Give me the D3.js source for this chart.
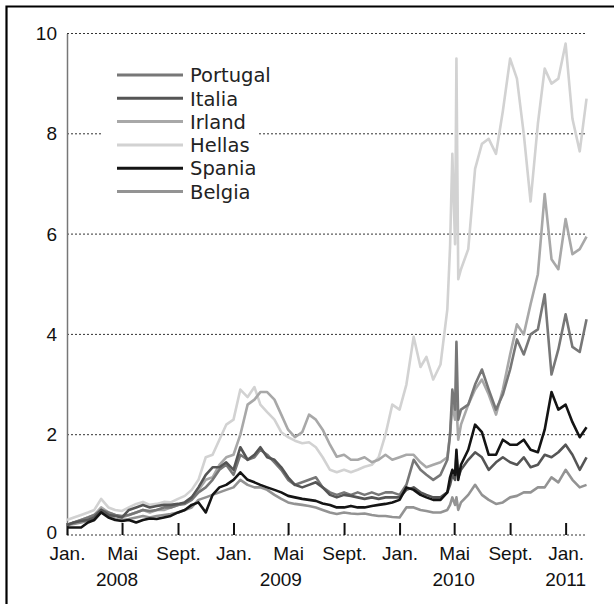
<!DOCTYPE html>
<html>
<head>
<meta charset="utf-8">
<script src="https://cdn.jsdelivr.net/npm/d3@7"></script>
<style>
  body { margin: 0; background: #fff; }
  .axis text, .year { font-family: "Liberation Sans", Arial, sans-serif; font-size: 19px; fill: #111; }
  .legend text { font-family: "DejaVu Sans", "Open Sans", sans-serif; font-size: 19.5px; fill: #222; }
</style>
</head>
<body>
<svg id="chart"></svg>
<script>
/* data: semi-monthly readings, extra points around the May 2010 spike */
const dates = [
  "2008-01-01","2008-01-16","2008-02-01","2008-02-16","2008-03-01","2008-03-16","2008-04-01","2008-04-16","2008-05-01","2008-05-16","2008-06-01","2008-06-16",
  "2008-07-01","2008-07-16","2008-08-01","2008-08-16","2008-09-01","2008-09-16","2008-10-01","2008-10-16","2008-11-01","2008-11-16","2008-12-01","2008-12-16",
  "2009-01-01","2009-01-16","2009-02-01","2009-02-16","2009-03-01","2009-03-16","2009-04-01","2009-04-16","2009-05-01","2009-05-16","2009-06-01","2009-06-16",
  "2009-07-01","2009-07-16","2009-08-01","2009-08-16","2009-09-01","2009-09-16","2009-10-01","2009-10-16","2009-11-01","2009-11-16","2009-12-01","2009-12-16",
  "2010-01-01","2010-01-16","2010-02-01","2010-02-16","2010-03-01","2010-03-16","2010-04-01","2010-04-16","2010-04-22","2010-04-27","2010-05-03","2010-05-06",
  "2010-05-10","2010-05-16","2010-06-01","2010-06-16","2010-07-01","2010-07-16","2010-08-01","2010-08-16","2010-09-01","2010-09-16","2010-10-01","2010-10-16",
  "2010-11-01","2010-11-16","2010-12-01","2010-12-16",
  "2011-01-01","2011-01-16","2011-02-01","2011-02-16"
];
const portugal = [
  0.2,0.25,0.3,0.35,0.4,0.5,0.45,0.4,0.38,0.4,0.45,0.5,0.48,0.5,0.55,0.55,0.6,0.62,0.7,0.85,0.95,1.1,1.3,1.4,
  1.2,1.6,1.5,1.55,1.7,1.6,1.45,1.3,1.1,1.0,1.05,1.1,1.15,0.95,0.85,0.8,0.85,0.8,0.85,0.8,0.85,0.8,0.85,0.85,
  0.8,1.0,1.5,1.3,1.2,1.1,1.2,1.5,2.0,2.9,2.5,3.85,2.3,2.5,2.6,3.0,3.3,2.9,2.5,2.8,3.3,3.9,3.6,4.0,4.1,4.8,3.2,3.7,
  4.4,3.75,3.65,4.3
];
const italia = [
  0.2,0.25,0.28,0.3,0.35,0.5,0.4,0.38,0.35,0.5,0.55,0.6,0.55,0.58,0.6,0.6,0.62,0.65,0.75,0.95,1.2,1.35,1.35,1.45,
  1.3,1.75,1.5,1.6,1.75,1.55,1.5,1.35,1.15,1.0,0.95,1.0,1.05,0.95,0.8,0.75,0.8,0.78,0.75,0.72,0.75,0.72,0.75,0.75,
  0.75,0.9,0.95,0.85,0.8,0.75,0.75,0.85,1.0,1.2,1.1,1.6,1.15,1.3,1.5,1.65,1.55,1.3,1.45,1.55,1.45,1.4,1.55,1.35,1.4,1.6,1.55,1.65,
  1.8,1.6,1.3,1.55
];
const irland = [
  0.2,0.25,0.3,0.35,0.4,0.55,0.45,0.4,0.35,0.4,0.45,0.5,0.45,0.5,0.5,0.55,0.6,0.65,0.75,0.9,1.1,1.15,1.4,1.55,
  1.6,2.0,2.6,2.7,2.85,2.85,2.7,2.4,2.1,1.95,2.05,2.4,2.3,2.1,1.8,1.56,1.6,1.5,1.5,1.55,1.45,1.5,1.6,1.5,
  1.55,1.6,1.6,1.45,1.35,1.4,1.45,1.55,2.0,2.6,2.3,2.6,1.9,2.2,2.6,2.9,3.1,2.8,2.4,2.9,3.6,4.2,4.0,4.6,5.2,6.8,5.5,5.3,
  6.3,5.6,5.7,5.95
];
const hellas = [
  0.3,0.35,0.4,0.45,0.5,0.72,0.55,0.5,0.48,0.55,0.62,0.66,0.6,0.62,0.66,0.65,0.72,0.78,0.9,1.1,1.55,1.6,1.9,2.2,
  2.3,2.9,2.75,2.95,2.6,2.45,2.3,2.05,1.95,1.88,1.83,1.85,1.75,1.55,1.3,1.25,1.3,1.25,1.3,1.36,1.4,1.55,2.0,2.6,
  2.5,3.0,3.95,3.35,3.55,3.1,3.4,4.5,5.75,7.6,5.8,9.5,5.1,5.3,5.7,7.3,7.8,7.9,7.6,8.45,9.5,9.1,8.0,6.65,8.2,9.3,9.0,9.1,
  9.8,8.3,7.65,8.7
];
const spania = [
  0.15,0.15,0.15,0.25,0.3,0.45,0.35,0.3,0.28,0.3,0.25,0.3,0.33,0.32,0.35,0.38,0.45,0.5,0.6,0.65,0.45,0.8,0.95,1.0,
  1.1,1.25,1.1,1.05,1.0,0.95,0.9,0.85,0.78,0.75,0.72,0.7,0.68,0.63,0.6,0.55,0.55,0.58,0.55,0.55,0.58,0.6,0.62,0.65,
  0.7,0.95,0.9,0.8,0.75,0.7,0.7,0.85,1.15,1.3,1.2,1.7,1.1,1.4,1.7,2.2,2.05,1.6,1.6,1.9,1.8,1.8,1.9,1.7,1.65,2.1,2.85,2.5,
  2.6,2.25,1.95,2.15
];
const belgia = [
  0.2,0.22,0.25,0.28,0.3,0.45,0.38,0.32,0.3,0.32,0.35,0.38,0.35,0.38,0.4,0.42,0.45,0.5,0.55,0.7,0.75,0.8,0.85,0.9,
  0.95,1.1,1.0,0.95,0.95,0.9,0.8,0.72,0.65,0.62,0.6,0.58,0.55,0.5,0.45,0.42,0.45,0.43,0.42,0.43,0.4,0.38,0.38,0.36,
  0.35,0.55,0.55,0.5,0.48,0.45,0.45,0.5,0.6,0.75,0.6,0.75,0.5,0.65,0.8,1.0,0.8,0.7,0.62,0.65,0.75,0.78,0.85,0.85,0.95,0.95,1.15,1.05,
  1.3,1.1,0.95,1.0
];
const seriesNames = ["Portugal", "Italia", "Irland", "Hellas", "Spania", "Belgia"];
const seriesColors = ["#777777", "#555555", "#a8a8a8", "#d2d2d2", "#141414", "#939393"];
const yTicks = [0, 2, 4, 6, 8, 10];
const tickDates = ["2008-01-01","2008-05-01","2008-09-01","2009-01-01","2009-05-01","2009-09-01","2010-01-01","2010-05-01","2010-09-01","2011-01-01"];
const tickLabels = ["Jan.", "Mai", "Sept.", "Jan.", "Mai", "Sept.", "Jan.", "Mai", "Sept.", "Jan."];
const yearLabels = ["2008", "2009", "2010", "2011"];
const yearDates = ["2008-04-20", "2009-04-15", "2010-04-30", "2011-01-01"];

/* layout */
const width = 614, height = 604;
const plot = { left: 67, right: 587, top: 33.5, bottom: 535 };
const parse = d3.timeParse("%Y-%m-%d");
const svg = d3.select("#chart").attr("width", width).attr("height", height);

const xScale = d3.scaleTime()
  .domain([parse("2008-01-01"), parse("2011-02-17")])
  .range([plot.left, plot.right]);
const yScale = d3.scaleLinear().domain([0, 10]).range([plot.bottom, plot.top]);

/* frame (left + top only) */
svg.append("path").attr("d", `M6.5,${height} V6.5 H${width}`)
  .attr("fill", "none").attr("stroke", "#000").attr("stroke-width", 2.2);

/* dotted gridlines */
svg.append("g").selectAll("line").data(yTicks).enter().append("line")
  .attr("x1", plot.left).attr("x2", plot.right)
  .attr("y1", d => yScale(d)).attr("y2", d => yScale(d))
  .attr("stroke", "#333").attr("stroke-width", 1).attr("stroke-dasharray", "2,2");

/* y axis */
const yAxis = svg.append("g").attr("class", "axis").attr("transform", `translate(${plot.left},0)`)
  .call(d3.axisLeft(yScale).tickValues(yTicks).tickSize(0).tickSizeOuter(0).tickPadding(10));
yAxis.attr("font-family", null).attr("font-size", null);
yAxis.select(".domain").attr("stroke", "#777").attr("stroke-width", 1.5);
// lift the "0" a little so it clears the first month label
yAxis.selectAll(".tick text").filter(d => d === 0).attr("y", -2.5);

/* x axis, ticks pointing up */
const xAxis = svg.append("g").attr("class", "axis").attr("transform", `translate(0,${plot.bottom})`)
  .call(d3.axisBottom(xScale).tickValues(tickDates.map(parse)).tickSize(-12).tickPadding(11.5)
    .tickFormat((d, i) => tickLabels[i]));
xAxis.attr("font-family", null).attr("font-size", null);
xAxis.select(".domain").remove();
xAxis.selectAll(".tick line").attr("stroke", "#111").attr("stroke-width", 2);

svg.append("g").selectAll("text").data(yearLabels).enter().append("text")
  .attr("class", "year")
  .attr("x", (d, i) => xScale(parse(yearDates[i]))).attr("y", 586)
  .attr("text-anchor", "middle")
  .text(d => d);

/* series */
const values = [portugal, italia, irland, hellas, spania, belgia];
const series = seriesNames.map((name, i) => ({
  name, color: seriesColors[i],
  points: dates.map((d, j) => ({ date: parse(d), value: values[i][j] }))
}));
const line = d3.line().x(d => xScale(d.date)).y(d => yScale(d.value));
const drawOrder = ["Hellas", "Irland", "Belgia", "Portugal", "Italia", "Spania"];

svg.append("g").selectAll("path")
  .data(drawOrder.map(n => series.find(s => s.name === n)))
  .enter().append("path")
  .attr("d", d => line(d.points))
  .attr("fill", "none").attr("stroke", d => d.color)
  .attr("stroke-width", 2.6).attr("stroke-linejoin", "round");

/* legend */
const legend = svg.append("g").attr("class", "legend");
legend.append("rect").attr("x", 101).attr("y", 58).attr("width", 157).attr("height", 148).attr("fill", "#fff");
const item = legend.selectAll("g.item").data(series).enter().append("g")
  .attr("class", "item").attr("transform", (d, i) => `translate(0,${75 + i * 23.3})`);
item.append("line").attr("x1", 117).attr("x2", 183)
  .attr("stroke", d => d.color).attr("stroke-width", 3);
item.append("text").attr("x", 190).attr("y", 7.2)
  .text(d => d.name);
</script>
</body>
</html>
